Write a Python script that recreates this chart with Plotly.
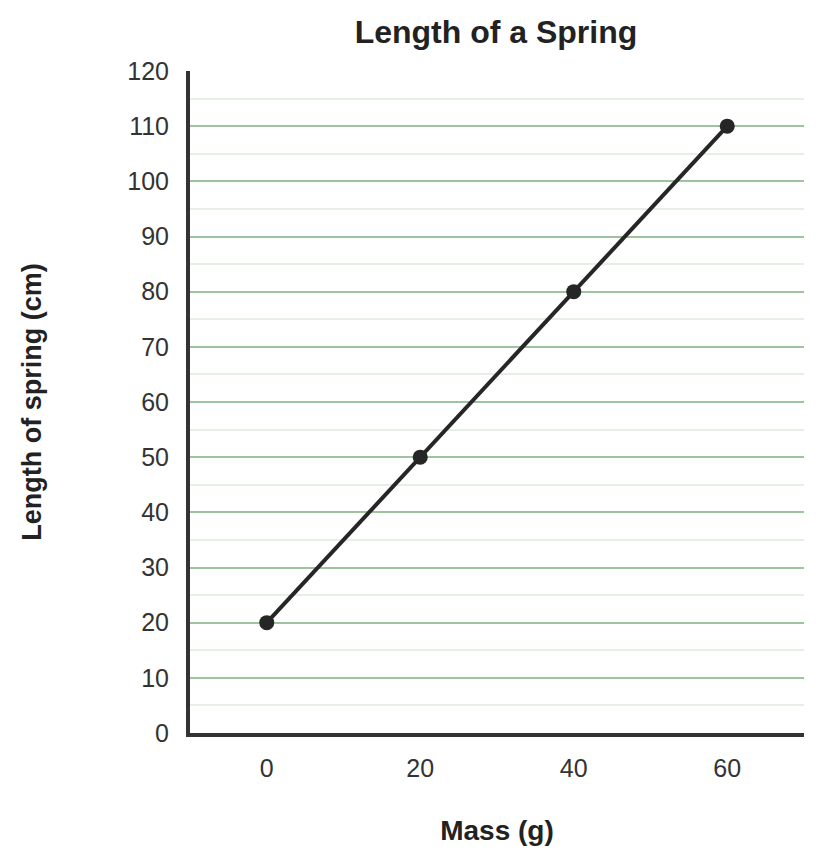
import plotly.graph_objects as go

mass = [0, 20, 40, 60]
length = [20, 50, 80, 110]
x_ticks = [0, 20, 40, 60]
y_ticks = list(range(0, 121, 10))

fig = go.Figure()
fig.add_trace(go.Scatter(
    x=mass, y=length, mode="lines+markers",
    line=dict(color="#262626", width=4),
    marker=dict(color="#262626", size=15),
    showlegend=False, cliponaxis=False,
))

font = "Liberation Sans, Arial, sans-serif"
fig.update_layout(
    width=816, height=853,
    margin=dict(l=182, r=20, t=63, b=128),
    paper_bgcolor="white", plot_bgcolor="white",
    font=dict(family=font, color="#333333"),
    title=dict(text="<b>Length of a Spring</b>", x=0.598, xanchor="center",
               y=0.972, yanchor="middle", font=dict(size=32, color="#222222")),
    xaxis=dict(
        range=[-10, 70], tickvals=x_ticks, showgrid=False, zeroline=False,
        showline=True, linecolor="#333333", linewidth=4,
        ticks="", tickfont=dict(size=25, color="#333333"), ticklabelstandoff=10,
        title=dict(text="<b>Mass (g)</b>", font=dict(size=28, color="#222222"), standoff=40),
    ),
    yaxis=dict(
        range=[0, 120], tickvals=y_ticks, showgrid=True, gridcolor="#9fc29f", gridwidth=2,
        minor=dict(dtick=5, showgrid=True, gridcolor="#e6eee6", gridwidth=2),
        zeroline=False, showline=True, linecolor="#333333", linewidth=4,
        ticks="", tickfont=dict(size=25, color="#333333"), ticklabelstandoff=12,
        title=dict(text="<b>Length of spring (cm)</b>", font=dict(size=27, color="#222222"), standoff=79),
    ),
)
fig.write_html("out.html")
